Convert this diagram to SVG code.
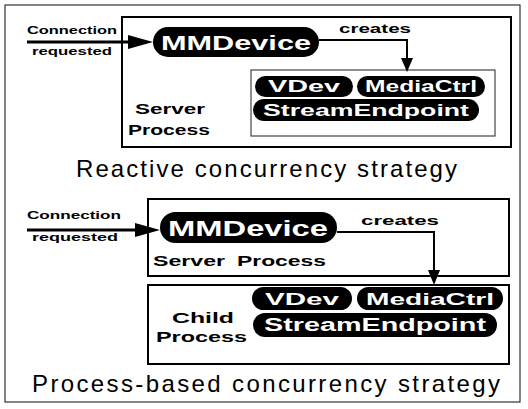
<svg xmlns="http://www.w3.org/2000/svg" width="528" height="409" viewBox="0 0 528 409">
  <style>
    .frame { fill: none; stroke: #333; stroke-width: 1.2; }
    .box { fill: none; stroke: #000; stroke-width: 2; }
    .inner { fill: none; stroke: #444; stroke-width: 1.2; }
    .pill { fill: #000; }
    .ptxt { fill: #fff; font-family: "Liberation Sans", Arial, sans-serif; font-weight: bold; text-anchor: middle; }
    .lbl { fill: #000; font-family: "Liberation Sans", Arial, sans-serif; font-weight: bold; }
    .cap { fill: #000; font-family: "Liberation Sans", Arial, sans-serif; font-size: 24px; }
    .wire { fill: none; stroke: #000; stroke-width: 2; }
    .feed { fill: none; stroke: #000; stroke-width: 3; }
    .head { fill: #000; }
  </style>

  <rect class="frame" x="5" y="5" width="515" height="397"/>

  <!-- Reactive strategy -->
  <g id="reactive-server">
    <rect class="box" x="122" y="17" width="389" height="130"/>
    <text class="lbl" x="135" y="114" font-size="15" textLength="70" lengthAdjust="spacingAndGlyphs">Server</text>
    <text class="lbl" x="128" y="135" font-size="15" textLength="82" lengthAdjust="spacingAndGlyphs">Process</text>
  </g>
  <g id="reactive-mmdevice">
    <rect class="pill" x="153" y="27" width="166" height="30" rx="15"/>
    <text class="ptxt" x="236" y="50" font-size="21" textLength="150" lengthAdjust="spacingAndGlyphs">MMDevice</text>
  </g>
  <g id="reactive-objects">
    <rect class="inner" x="251" y="70" width="244" height="66"/>
    <rect class="pill" x="255" y="76" width="98" height="21" rx="10.5"/>
    <text class="ptxt" x="304" y="92" font-size="16" textLength="72" lengthAdjust="spacingAndGlyphs">VDev</text>
    <rect class="pill" x="357" y="76" width="128" height="21" rx="10.5"/>
    <text class="ptxt" x="421" y="92" font-size="16" textLength="112" lengthAdjust="spacingAndGlyphs">MediaCtrl</text>
    <rect class="pill" x="253" y="99" width="226" height="22" rx="11"/>
    <text class="ptxt" x="366" y="116" font-size="17" textLength="206" lengthAdjust="spacingAndGlyphs">StreamEndpoint</text>
  </g>
  <text class="cap" x="76" y="177" textLength="381" lengthAdjust="spacing">Reactive concurrency strategy</text>

  <!-- Process-based strategy -->
  <g id="process-server">
    <rect class="box" x="148" y="199" width="361" height="77"/>
    <text class="lbl" x="153" y="266" font-size="15" textLength="72" lengthAdjust="spacingAndGlyphs">Server</text>
    <text class="lbl" x="237" y="266" font-size="15" textLength="89" lengthAdjust="spacingAndGlyphs">Process</text>
  </g>
  <g id="process-mmdevice">
    <rect class="pill" x="160" y="212" width="177" height="31" rx="15.5"/>
    <text class="ptxt" x="248" y="236" font-size="22" textLength="160" lengthAdjust="spacingAndGlyphs">MMDevice</text>
  </g>
  <g id="child-process">
    <rect class="box" x="148" y="285" width="361" height="79"/>
    <text class="lbl" x="172" y="323" font-size="15" textLength="62" lengthAdjust="spacingAndGlyphs">Child</text>
    <text class="lbl" x="156" y="342" font-size="15" textLength="91" lengthAdjust="spacingAndGlyphs">Process</text>
    <rect class="pill" x="252" y="287" width="100" height="23" rx="11.5"/>
    <text class="ptxt" x="302" y="305" font-size="17" textLength="74" lengthAdjust="spacingAndGlyphs">VDev</text>
    <rect class="pill" x="357" y="287" width="146" height="23" rx="11.5"/>
    <text class="ptxt" x="430" y="305" font-size="17" textLength="128" lengthAdjust="spacingAndGlyphs">MediaCtrl</text>
    <rect class="pill" x="253" y="313" width="244" height="24" rx="12"/>
    <text class="ptxt" x="375" y="331" font-size="18" textLength="222" lengthAdjust="spacingAndGlyphs">StreamEndpoint</text>
  </g>
  <text class="cap" x="32" y="392" textLength="468" lengthAdjust="spacing">Process-based concurrency strategy</text>

  <!-- connectors and their labels -->
  <g id="connectors">
    <text class="lbl" x="27" y="34" font-size="10.5" textLength="90" lengthAdjust="spacingAndGlyphs">Connection</text>
    <text class="lbl" x="32" y="55" font-size="10.5" textLength="80" lengthAdjust="spacingAndGlyphs">requested</text>
    <line class="feed" x1="27" y1="42" x2="130" y2="42"/>
    <polygon class="head" points="128,35 153,42 128,49"/>
    <text class="lbl" x="339" y="33" font-size="13" textLength="72" lengthAdjust="spacingAndGlyphs">creates</text>
    <path class="wire" d="M319,40 H407 V60"/>
    <polygon class="head" points="401,58 413,58 407,72"/>

    <text class="lbl" x="27" y="219" font-size="10.5" textLength="94" lengthAdjust="spacingAndGlyphs">Connection</text>
    <text class="lbl" x="32" y="241" font-size="10.5" textLength="86" lengthAdjust="spacingAndGlyphs">requested</text>
    <line class="feed" x1="27" y1="230" x2="137" y2="230"/>
    <polygon class="head" points="135,223 160,230 135,237"/>
    <text class="lbl" x="361" y="225" font-size="13" textLength="78" lengthAdjust="spacingAndGlyphs">creates</text>
    <path class="wire" d="M337,232 H434 V272"/>
    <polygon class="head" points="428,270 440,270 434,285"/>
  </g>
</svg>
